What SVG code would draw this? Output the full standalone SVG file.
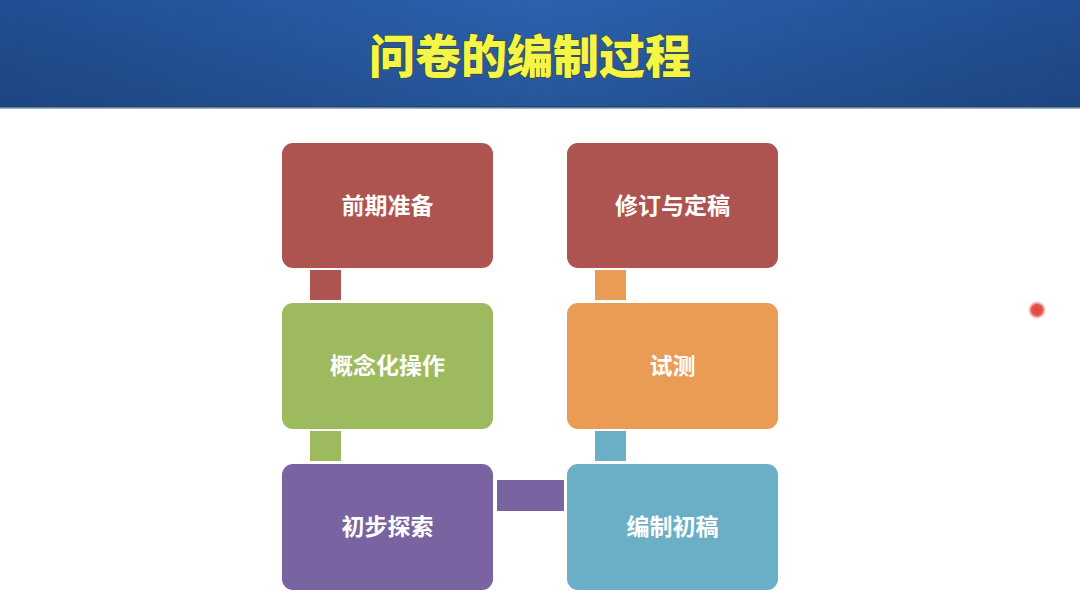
<svg xmlns="http://www.w3.org/2000/svg" width="1080" height="592" viewBox="0 0 1080 592">
<defs>
<linearGradient id="hdr" x1="0" y1="0" x2="1" y2="0">
<stop offset="0" stop-color="#214E92"/>
<stop offset="0.5" stop-color="#2C61AE"/>
<stop offset="1" stop-color="#214E92"/>
</linearGradient>
<linearGradient id="hdrv" x1="0" y1="0" x2="0" y2="1">
<stop offset="0" stop-color="#000" stop-opacity="0"/>
<stop offset="1" stop-color="#000" stop-opacity="0.12"/>
</linearGradient>
<radialGradient id="dot">
<stop offset="0" stop-color="#E0403A"/>
<stop offset="0.55" stop-color="#E45650"/>
<stop offset="0.7" stop-color="#F4A6A2"/>
<stop offset="1" stop-color="#FFFFFF" stop-opacity="0"/>
</radialGradient>
</defs>
<style>
.box{stroke:none}
.lbl{font-family:"Noto Sans CJK SC","Noto Sans",sans-serif;font-weight:bold;font-size:23px;fill:#FFFFFF;text-anchor:middle;dominant-baseline:central}
.title{font-family:"Noto Sans CJK SC","Noto Sans",sans-serif;font-weight:900;font-size:46px;fill:#F5F545;stroke:#3A4A30;stroke-width:1.2;paint-order:stroke;text-anchor:middle}
</style>
<rect x="0" y="0" width="1080" height="592" fill="#FFFFFF"/>
<rect x="0" y="0" width="1080" height="108" fill="url(#hdr)"/>
<rect x="0" y="0" width="1080" height="108" fill="url(#hdrv)"/>
<rect x="0" y="106" width="1080" height="1.5" fill="#2B3F5E"/>
<rect x="0" y="107.5" width="1080" height="1.5" fill="#9DB7D6"/>
<text class="title" x="530" y="73">问卷的编制过程</text>
<g id="connectors">
<rect x="310" y="270" width="31" height="30" fill="#AE5450"/>
<rect x="310" y="431" width="31" height="30" fill="#9DBB5E"/>
<rect x="497" y="480" width="67" height="31" fill="#7A63A1"/>
<rect x="595" y="431" width="31" height="30" fill="#6BAFC6"/>
<rect x="595" y="270" width="31" height="30" fill="#EA9C55"/>
</g>
<g id="node1">
<rect class="box" x="282" y="143" width="211" height="125" rx="11" fill="#AE5450"/>
<text class="lbl" x="387.5" y="204">前期准备</text>
</g>
<g id="node2">
<rect class="box" x="282" y="303" width="211" height="126" rx="11" fill="#9DBB5E"/>
<text class="lbl" x="387.5" y="364">概念化操作</text>
</g>
<g id="node3">
<rect class="box" x="282" y="464" width="211" height="126" rx="11" fill="#7A63A1"/>
<text class="lbl" x="387.5" y="525">初步探索</text>
</g>
<g id="node4">
<rect class="box" x="567" y="464" width="211" height="126" rx="11" fill="#6BAFC6"/>
<text class="lbl" x="672.5" y="525">编制初稿</text>
</g>
<g id="node5">
<rect class="box" x="567" y="303" width="211" height="126" rx="11" fill="#EA9C55"/>
<text class="lbl" x="672.5" y="364">试测</text>
</g>
<g id="node6">
<rect class="box" x="567" y="143" width="211" height="125" rx="11" fill="#AE5450"/>
<text class="lbl" x="672.5" y="204">修订与定稿</text>
</g>
<circle cx="1037" cy="310" r="10" fill="url(#dot)"/>
</svg>
